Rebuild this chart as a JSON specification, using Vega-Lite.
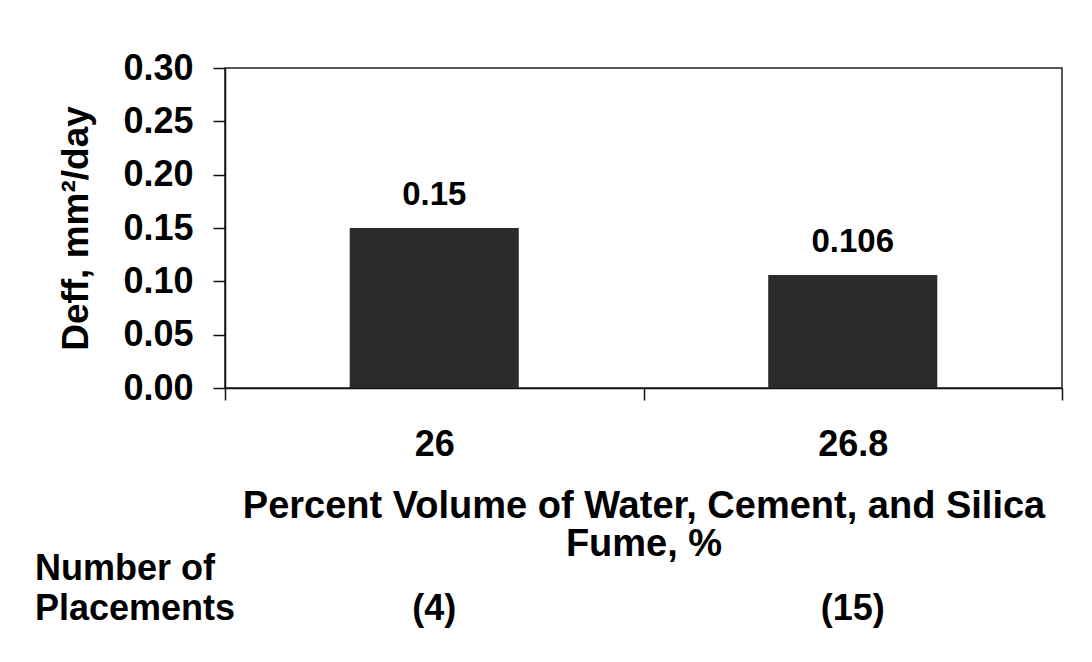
{
  "$schema": "https://vega.github.io/schema/vega-lite/v6.json",
  "autosize": {"type": "none"},
  "width": 837,
  "height": 320,
  "padding": {"left": 225, "top": 68, "right": 30, "bottom": 274},
  "background": "white",
  "config": {
    "font": "Liberation Sans",
    "view": {"stroke": "#222222", "strokeWidth": 1.5},
    "axis": {"domainColor": "#111111", "tickColor": "#111111", "labelColor": "#000000", "titleColor": "#000000", "domainWidth": 1.5, "tickWidth": 1.5}
  },
  "title": {
    "text": ["Number of", "Placements"],
    "orient": "bottom",
    "anchor": "start",
    "frame": "group",
    "fontSize": 36,
    "fontWeight": "bold",
    "lineHeight": 40,
    "color": "#000000",
    "dx": -190,
    "dy": -75,
    "offset": 0
  },
  "data": {
    "values": [
      {"pct": "26", "D": 0.15, "placements": 4},
      {"pct": "26.8", "D": 0.106, "placements": 15}
    ]
  },
  "encoding": {
    "x": {
      "field": "pct",
      "type": "nominal",
      "sort": null,
      "scale": {"paddingInner": 0, "paddingOuter": 0},
      "axis": {
        "title": ["Percent Volume of Water, Cement, and Silica", "Fume, %"],
        "titleFontSize": 38,
        "titleFontWeight": "bold",
        "titleLineHeight": 38,
        "titleBaseline": "top",
        "titleY": 99,
        "labelAngle": 0,
        "labelFontSize": 36,
        "labelFontWeight": "bold",
        "labelPadding": 27,
        "tickSize": 12,
        "tickBand": "extent",
        "grid": false
      }
    }
  },
  "layer": [
    {
      "mark": {"type": "bar", "color": "#2b2b2b", "width": {"band": 0.404}},
      "encoding": {
        "y": {
          "field": "D",
          "type": "quantitative",
          "scale": {"domain": [0, 0.3], "nice": false},
          "axis": {
            "title": "Deff, mm²/day",
            "titleFontSize": 37,
            "titleFontWeight": "bold",
            "titlePadding": 27,
            "values": [0, 0.05, 0.1, 0.15, 0.2, 0.25, 0.3],
            "format": ".2f",
            "labelFontSize": 36,
            "labelFontWeight": "bold",
            "labelPadding": 20,
            "tickSize": 12,
            "grid": false
          }
        }
      }
    },
    {
      "mark": {"type": "text", "fontSize": 33, "fontWeight": "bold", "baseline": "alphabetic", "dy": -23, "color": "#000000"},
      "encoding": {
        "y": {"field": "D", "type": "quantitative"},
        "text": {"field": "D", "type": "quantitative"}
      }
    },
    {
      "transform": [{"calculate": "'(' + datum.placements + ')'", "as": "plabel"}],
      "mark": {"type": "text", "fontSize": 36, "fontWeight": "bold", "baseline": "alphabetic", "dy": 232, "color": "#000000"},
      "encoding": {
        "y": {"datum": 0, "type": "quantitative"},
        "text": {"field": "plabel", "type": "nominal"}
      }
    }
  ]
}
